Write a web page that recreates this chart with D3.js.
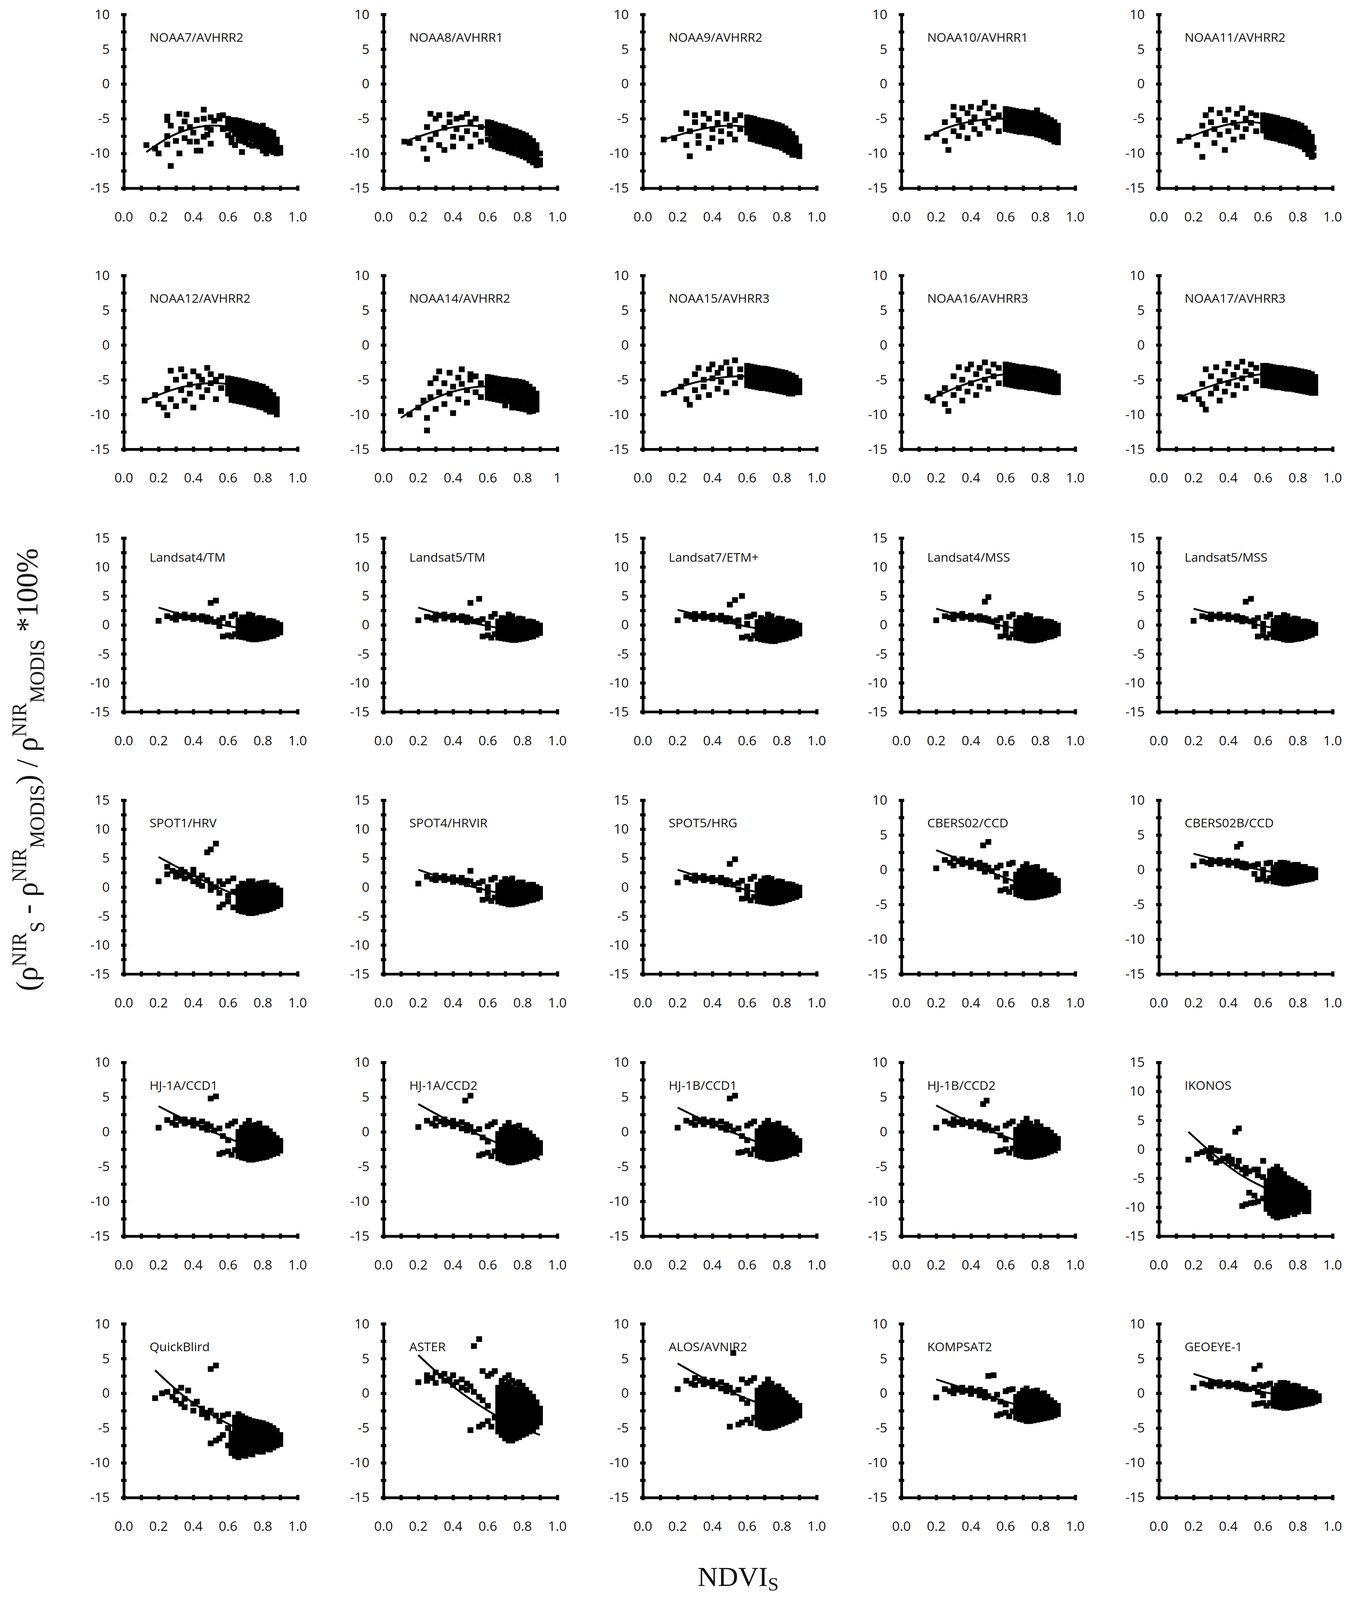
<!DOCTYPE html>
<html>
<head>
<meta charset="utf-8">
<script src="https://cdn.jsdelivr.net/npm/d3@7"></script>
<style>
  html, body { margin: 0; padding: 0; background: #fff; overflow: hidden; }
  svg { display: block; }
  text { font-family: "Liberation Sans Narrow", "Open Sans", sans-serif; fill: #111; }
</style>
</head>
<body>
<div id="chart"></div>
<script>
// panel names, row by row
const names = [
  'NOAA7/AVHRR2','NOAA8/AVHRR1','NOAA9/AVHRR2','NOAA10/AVHRR1','NOAA11/AVHRR2',
  'NOAA12/AVHRR2','NOAA14/AVHRR2','NOAA15/AVHRR3','NOAA16/AVHRR3','NOAA17/AVHRR3',
  'Landsat4/TM','Landsat5/TM','Landsat7/ETM+','Landsat4/MSS','Landsat5/MSS',
  'SPOT1/HRV','SPOT4/HRVIR','SPOT5/HRG','CBERS02/CCD','CBERS02B/CCD',
  'HJ-1A/CCD1','HJ-1A/CCD2','HJ-1B/CCD1','HJ-1B/CCD2','IKONOS',
  'QuickBlird','ASTER','ALOS/AVNIR2','KOMPSAT2','GEOEYE-1'
];
// y-axis maximum per panel (min is always -15)
const yMax = [
  10,10,10,10,10, 10,10,10,10,10, 15,15,15,15,15,
  15,15,15,10,10, 10,10,10,10,15, 10,10,10,10,10
];
const xTickLabels = ['0.0','0.2','0.4','0.6','0.8','1.0'];

// fitted curves, [NDVI, difference %]
const curves = [
  [[0.13,-9.8],[0.3,-7.2],[0.5,-6],[0.7,-6.9],[0.9,-9.6]],
  [[0.12,-8.3],[0.3,-6.8],[0.5,-6],[0.7,-7.3],[0.9,-10.8]],
  [[0.12,-8],[0.3,-6.7],[0.5,-6],[0.7,-7],[0.9,-10]],
  [[0.15,-7.7],[0.3,-6],[0.55,-5],[0.75,-5.8],[0.9,-7.5]],
  [[0.12,-8.2],[0.3,-6.5],[0.5,-5.5],[0.7,-6.5],[0.88,-9.5]],
  [[0.12,-8],[0.3,-6.3],[0.5,-5.5],[0.7,-6.3],[0.88,-9]],
  [[0.1,-10.5],[0.3,-7.6],[0.55,-6],[0.75,-6.5],[0.88,-7.8]],
  [[0.12,-7],[0.3,-5.4],[0.55,-4.5],[0.75,-5],[0.9,-6]],
  [[0.15,-8],[0.35,-5.8],[0.6,-4.2],[0.8,-4.5],[0.9,-5.3]],
  [[0.12,-7.5],[0.35,-5.5],[0.6,-4.2],[0.8,-4.6],[0.9,-5.5]],
  [[0.2,3],[0.4,1.2],[0.6,-0.2],[0.75,-0.9],[0.9,-1.5]],
  [[0.2,3],[0.4,1.2],[0.6,-0.2],[0.75,-0.9],[0.9,-1.4]],
  [[0.2,2.6],[0.4,1.1],[0.6,-0.3],[0.75,-1],[0.9,-1.5]],
  [[0.2,2.8],[0.4,1.1],[0.6,-0.3],[0.75,-1],[0.9,-1.6]],
  [[0.2,2.8],[0.4,1.2],[0.6,-0.2],[0.75,-0.9],[0.9,-1.5]],
  [[0.2,5.2],[0.4,2],[0.6,-0.8],[0.75,-2.3],[0.9,-3.5]],
  [[0.2,3],[0.4,1],[0.6,-0.6],[0.75,-1.5],[0.9,-2.3]],
  [[0.2,3],[0.4,1.1],[0.6,-0.5],[0.75,-1.3],[0.9,-2]],
  [[0.2,2.8],[0.4,0.8],[0.6,-1.2],[0.75,-2.4],[0.9,-3.5]],
  [[0.2,2.3],[0.4,1],[0.6,-0.1],[0.75,-0.7],[0.9,-1.2]],
  [[0.2,3.7],[0.4,1.2],[0.6,-0.9],[0.75,-2.3],[0.9,-3.4]],
  [[0.2,4],[0.4,1.3],[0.6,-1],[0.75,-2.6],[0.9,-4]],
  [[0.2,3.5],[0.4,1.1],[0.6,-0.9],[0.75,-2.3],[0.9,-3.5]],
  [[0.2,3.8],[0.4,1.3],[0.6,-0.7],[0.75,-2],[0.9,-3]],
  [[0.17,3],[0.3,-0.5],[0.45,-4],[0.6,-6.5],[0.75,-8.5],[0.85,-9.5]],
  [[0.18,3.3],[0.35,-0.5],[0.5,-3],[0.65,-5],[0.85,-7]],
  [[0.2,5.5],[0.4,1],[0.6,-2.5],[0.75,-4.5],[0.9,-6]],
  [[0.2,4.3],[0.4,1.5],[0.6,-0.8],[0.75,-2],[0.9,-3]],
  [[0.2,2],[0.4,0.4],[0.6,-1.2],[0.75,-2.2],[0.9,-3]],
  [[0.2,2.8],[0.4,1.3],[0.6,0.2],[0.75,-0.5],[0.9,-1]]
];

// observations, "ndvi:y1,y2,...;ndvi:..."
const points = [
  // NOAA7
  '0.13:-8.8;0.18:-9.3;0.2:-10;0.25:-4.7,-5.2,-7.5,-8.7;0.27:-11.8,-6;0.3:-8.2;0.32:-10,-4.3;0.33:-6.5;0.35:-7.8,-5.4;0.36:-4.4;0.38:-8.3,-6.2;0.4:-7;0.42:-8.3,-5.2,-9.6;0.44:-9.6;0.46:-3.7,-7.6,-5;0.48:-7.3,-6.3;0.5:-4.8,-8.6,-6.6;0.52:-5.3;0.55:-5,-4.6;0.57:-6.5,-4.5;' +
  '0.6:-5,-5.7,-6.4,-7.4;0.62:-5.2,-5.9,-6.6,-7.8,-8.4;0.64:-5.2,-5.8,-6.5,-7.2,-8.8;0.66:-5.3,-6,-6.7,-7.4,-8.1;0.68:-5.4,-6.1,-6.8,-7.5,-8.2,-9.8;0.7:-5.6,-6.3,-7,-7.7,-8.4;0.72:-5.7,-6.4,-7.1,-7.8,-8.7;0.74:-5.9,-6.6,-7.3,-8,-8.9;0.76:-6,-6.7,-7.4,-8.1,-8.8;0.78:-6.2,-6.9,-7.6,-8.3,-9;0.8:-6,-6.8,-7.5,-8.2,-9,-9.6;0.82:-6.6,-7.3,-8,-8.7,-9.4,-10;0.84:-6.8,-7.5,-8.2,-8.9,-9.6;0.86:-7,-7.7,-8.4,-9.1,-9.8;0.88:-8,-8.7,-9.4,-10;0.9:-9.2,-9.9',
  // NOAA8
  '0.12:-8.3;0.15:-8.5;0.2:-7.8;0.23:-9.3;0.25:-10.8,-6.2;0.27:-4.3,-8;0.3:-5,-7.2;0.32:-4.5,-8.8;0.35:-6.3,-9.5;0.38:-5.5,-4.4;0.4:-7.6,-9;0.42:-6.5,-5;0.45:-7.8,-4.8;0.48:-4.3,-6.8;0.5:-9,-5.5;0.53:-7.3,-5;0.56:-6.2,-8.3;' +
  '0.6:-5.5,-6.3,-7.1,-8;0.62:-5.6,-6.4,-7.2,-8.1,-8.8;0.64:-5.8,-6.6,-7.4,-8.2,-9;0.66:-6,-6.8,-7.6,-8.4,-9.2;0.68:-6.1,-6.9,-7.7,-8.5,-9.3;0.7:-6.2,-7,-7.8,-8.6,-9.4;0.72:-6.5,-7.3,-8.1,-8.9,-9.7;0.74:-6.7,-7.5,-8.3,-9.1,-9.9;0.76:-6.8,-7.6,-8.4,-9.2,-10;0.78:-7,-7.8,-8.6,-9.4,-10.2;0.8:-7.2,-8,-8.8,-9.6,-10.4;0.82:-7.4,-8.2,-9,-9.8,-10.6;0.84:-7.8,-8.6,-9.4,-10.2,-11;0.86:-8.2,-9,-9.8,-10.6,-11.3;0.88:-8.8,-9.6,-10.4,-11.2,-11.7;0.9:-10,-11,-11.6',
  // NOAA9
  '0.12:-8;0.18:-7.8;0.22:-6.5;0.25:-4.2,-8.8;0.27:-10.4,-6.8;0.3:-5.5,-4.5;0.32:-7.5,-8.5;0.35:-4.3,-6;0.38:-9.2,-5;0.4:-6.5,-7.8;0.43:-4.2,-5.6;0.45:-8.3,-6.8;0.48:-5,-4.4;0.5:-7.2,-6;0.53:-5.2,-8;0.56:-4.5,-6.5;' +
  '0.6:-4.8,-5.5,-6.2,-7;0.62:-4.9,-5.6,-6.3,-7.1,-7.9;0.64:-5,-5.7,-6.4,-7.2,-8;0.66:-5.2,-5.9,-6.6,-7.4,-8.2;0.68:-5.3,-6,-6.7,-7.5,-8.3;0.7:-5.4,-6.1,-6.9,-7.7,-8.5;0.72:-5.5,-6.2,-7,-7.8,-8.6;0.74:-5.6,-6.3,-7.1,-7.9,-8.7;0.76:-5.8,-6.5,-7.3,-8.1,-8.9;0.78:-5.9,-6.6,-7.4,-8.2,-9;0.8:-6.1,-6.8,-7.6,-8.4,-9.2;0.82:-6.4,-7.1,-7.9,-8.7,-9.5;0.84:-6.8,-7.5,-8.3,-9.1,-9.8;0.86:-7.2,-8,-8.8,-9.6,-10.2;0.88:-7.8,-8.6,-9.4,-10.2;0.9:-9,-9.8,-10.4',
  // NOAA10
  '0.15:-7.7;0.2:-7.2;0.25:-8.2,-5.5;0.27:-9.5;0.3:-4.5,-6.8,-3.3;0.33:-5.2,-7.5;0.35:-3.5,-6.2;0.38:-4.2,-7.8;0.4:-5.5,-3.3;0.42:-6.5,-4.8;0.45:-3.5,-7.2;0.48:-2.7,-5.6;0.5:-4.2,-6.3;0.53:-3.3,-5;0.56:-4.5,-6.8;' +
  '0.6:-3.6,-4.3,-5,-5.7,-6.5;0.62:-3.7,-4.4,-5.1,-5.8,-6.6;0.64:-3.8,-4.5,-5.2,-5.9,-6.7;0.66:-3.9,-4.6,-5.3,-6,-6.8;0.68:-4,-4.7,-5.4,-6.1,-6.9;0.7:-4,-4.7,-5.4,-6.1,-6.9;0.72:-4.1,-4.8,-5.5,-6.2,-7;0.74:-4.2,-4.9,-5.6,-6.3,-7.1;0.76:-4.2,-4.9,-5.6,-6.3,-7.1;0.78:-3.8,-4.5,-5.2,-5.9,-6.6,-7.3;0.8:-4.5,-5.2,-5.9,-6.6,-7.4;0.82:-4.7,-5.4,-6.1,-6.8,-7.6;0.84:-4.9,-5.6,-6.3,-7,-7.8;0.86:-5.2,-5.9,-6.6,-7.3,-8;0.88:-5.5,-6.2,-6.9,-7.6,-8.3;0.9:-6,-6.8,-7.6,-8.4',
  // NOAA11
  '0.12:-8.2;0.17:-7.6;0.22:-8.8;0.25:-10.5,-6;0.27:-4.5,-7.2;0.3:-3.7,-5.5;0.32:-8.5,-6.5;0.35:-4.2,-7.3;0.38:-5.2,-9.5;0.4:-3.7,-6.8;0.43:-5.6,-8;0.45:-4.3,-6.2;0.48:-3.5,-7.6;0.5:-5,-6.5;0.53:-4.2,-5.6;0.56:-6.8,-4.5;' +
  '0.6:-4.5,-5.2,-5.9,-6.7;0.62:-4.6,-5.3,-6,-6.8,-7.6;0.64:-4.7,-5.4,-6.1,-6.9,-7.7;0.66:-4.8,-5.5,-6.2,-7,-7.8;0.68:-4.9,-5.6,-6.3,-7.1,-7.9;0.7:-5.1,-5.8,-6.5,-7.3,-8.1;0.72:-5.2,-5.9,-6.6,-7.4,-8.2;0.74:-5.3,-6,-6.7,-7.5,-8.3;0.76:-5.5,-6.2,-6.9,-7.7,-8.5;0.78:-5.6,-6.3,-7,-7.8,-8.6;0.8:-5.8,-6.5,-7.2,-8,-8.8;0.82:-6,-6.7,-7.4,-8.2,-9;0.84:-6.4,-7.1,-7.8,-8.6,-9.4;0.86:-7,-7.8,-8.6,-9.4,-10.1;0.88:-7.6,-8.4,-9.2,-10,-10.5;0.89:-9.2,-10.3',
  // NOAA12
  '0.12:-8;0.18:-7.2;0.2:-8.5;0.23:-9;0.25:-6.3,-10.1;0.27:-3.7,-7.8;0.3:-5,-8.8;0.33:-3.5,-6.5;0.35:-4.5,-8;0.38:-7,-5.7;0.4:-3.8,-9;0.43:-6,-4.5;0.45:-7.5,-5;0.48:-3.3,-6.5;0.5:-4.2,-5.5;0.53:-7.8,-5;0.56:-4.5,-6.2;' +
  '0.6:-4.8,-5.5,-6.2,-7;0.62:-4.9,-5.6,-6.3,-7.1,-7.9;0.64:-5,-5.7,-6.4,-7.2,-8;0.66:-5.1,-5.8,-6.5,-7.3,-8.1;0.68:-5.2,-5.9,-6.6,-7.4,-8.2;0.7:-5.3,-6,-6.7,-7.5,-8.3;0.72:-5.5,-6.2,-6.9,-7.7,-8.5;0.74:-5.6,-6.3,-7,-7.8,-8.6;0.76:-5.7,-6.4,-7.1,-7.9,-8.7;0.78:-5.9,-6.6,-7.3,-8.1,-8.9;0.8:-6,-6.7,-7.4,-8.2,-9;0.82:-6.3,-7,-7.7,-8.5,-9.3;0.84:-6.7,-7.4,-8.1,-8.9,-9.6;0.86:-7.2,-8,-8.8,-9.6;0.88:-7.8,-8.6,-9.4,-10',
  // NOAA14
  '0.1:-9.5;0.15:-10;0.2:-9;0.23:-8;0.25:-12.3,-10.5;0.27:-7.5,-5.5;0.3:-4.8,-9.2;0.32:-3.8,-6.8;0.35:-8.5,-5.5;0.38:-4,-7;0.4:-9.8,-6;0.43:-4.7,-7.8;0.45:-3.5,-5.6;0.48:-6.5,-8.3;0.5:-4.2,-5;0.53:-6.8,-4.5;0.56:-5.5,-7.5;' +
  '0.6:-4.6,-5.3,-6,-6.8,-7.6;0.62:-4.7,-5.4,-6.1,-6.9,-7.7;0.64:-4.8,-5.5,-6.2,-7,-7.8;0.66:-4.9,-5.6,-6.3,-7.1,-7.9;0.68:-5,-5.7,-6.4,-7.2,-8;0.7:-5,-5.7,-6.4,-7.2,-8,-8.7;0.72:-5.1,-5.8,-6.5,-7.3,-8.1;0.74:-5.2,-5.9,-6.6,-7.4,-8.2,-9;0.76:-5.2,-5.9,-6.6,-7.4,-8.2,-9;0.78:-5.3,-6,-6.7,-7.5,-8.3,-9.1;0.8:-5.4,-6.1,-6.8,-7.6,-8.4,-9.2;0.82:-5.6,-6.3,-7,-7.8,-8.6,-9.3;0.84:-6,-6.7,-7.4,-8.2,-9,-9.6;0.86:-6.4,-7.2,-8,-8.8,-9.5;0.88:-7,-7.8,-8.6,-9.3',
  // NOAA15
  '0.12:-7;0.18:-6.8;0.22:-6;0.25:-7.8,-5.2;0.27:-8.6;0.3:-4.2,-6.5;0.32:-3.3,-7.5;0.35:-5,-6;0.38:-3.5,-7.2;0.4:-4.8,-2.8;0.43:-6.3,-4;0.45:-3.3,-5.3;0.48:-2.5,-6.8;0.5:-4.2,-3.5;0.53:-2.2,-5.5;0.56:-3.5,-4.6;' +
  '0.6:-3,-3.7,-4.4,-5.1,-5.8;0.62:-3.1,-3.8,-4.5,-5.2,-5.9;0.64:-3.2,-3.9,-4.6,-5.3,-6;0.66:-3.3,-4,-4.7,-5.4,-6.1;0.68:-3.4,-4.1,-4.8,-5.5,-6.2;0.7:-3.4,-4.1,-4.8,-5.5,-6.2;0.72:-3.5,-4.2,-4.9,-5.6,-6.3;0.74:-3.6,-4.3,-5,-5.7,-6.4;0.76:-3.7,-4.4,-5.1,-5.8,-6.5;0.78:-3.8,-4.5,-5.2,-5.9,-6.6;0.8:-3.9,-4.6,-5.3,-6,-6.7;0.82:-4,-4.7,-5.4,-6.1,-6.8;0.84:-4.2,-4.9,-5.6,-6.3,-7;0.86:-4.4,-5.1,-5.8,-6.5,-7;0.88:-4.7,-5.4,-6.1,-6.8;0.9:-5.2,-6,-6.8',
  // NOAA16
  '0.15:-7.5;0.18:-8;0.22:-7;0.25:-6.2,-8.5;0.27:-9.5;0.3:-4.5,-7.2;0.33:-3.2,-6.2;0.35:-5,-8;0.38:-3.5,-6.7;0.4:-2.8,-5.5;0.43:-7.2,-4.2;0.45:-3.3,-6;0.48:-2.5,-5;0.5:-3.8,-6.3;0.53:-2.8,-4.5;0.56:-3.3,-5.5;' +
  '0.6:-2.8,-3.5,-4.2,-4.9,-5.6;0.62:-2.9,-3.6,-4.3,-5,-5.7;0.64:-3,-3.7,-4.4,-5.1,-5.8;0.66:-3.1,-3.8,-4.5,-5.2,-5.9;0.68:-3.2,-3.9,-4.6,-5.3,-6;0.7:-3.2,-3.9,-4.6,-5.3,-6;0.72:-3.3,-4,-4.7,-5.4,-6.1;0.74:-3.4,-4.1,-4.8,-5.5,-6.2;0.76:-3.4,-4.1,-4.8,-5.5,-6.2;0.78:-3.5,-4.2,-4.9,-5.6,-6.3;0.8:-3.6,-4.3,-5,-5.7,-6.4;0.82:-3.7,-4.4,-5.1,-5.8,-6.5;0.84:-3.8,-4.5,-5.2,-5.9,-6.6;0.86:-3.9,-4.6,-5.3,-6,-6.7;0.88:-4.1,-4.8,-5.5,-6.2,-6.8;0.9:-4.5,-5.3,-6.1,-6.8',
  // NOAA17
  '0.12:-7.5;0.15:-7.8;0.2:-7;0.23:-7.8;0.25:-5.6,-8.5;0.27:-9.3,-3.5;0.3:-4.5,-7;0.33:-3.2,-6.2;0.35:-5.2,-8;0.38:-3.8,-6.7;0.4:-2.7,-5.5;0.43:-4.3,-7.2;0.45:-3.2,-5.8;0.48:-2.4,-4.8;0.5:-3.8,-6.2;0.53:-2.8,-4.3;0.56:-3.3,-5.2;' +
  '0.6:-3,-3.7,-4.4,-5.1,-5.8;0.62:-3,-3.7,-4.4,-5.1,-5.8;0.64:-3.1,-3.8,-4.5,-5.2,-5.9;0.66:-3.2,-3.9,-4.6,-5.3,-6;0.68:-3.3,-4,-4.7,-5.4,-6.1;0.7:-3.3,-4,-4.7,-5.4,-6.1;0.72:-3.4,-4.1,-4.8,-5.5,-6.2;0.74:-3.5,-4.2,-4.9,-5.6,-6.3;0.76:-3.5,-4.2,-4.9,-5.6,-6.3;0.78:-3.6,-4.3,-5,-5.7,-6.4;0.8:-3.7,-4.4,-5.1,-5.8,-6.5;0.82:-3.8,-4.5,-5.2,-5.9,-6.6;0.84:-3.9,-4.6,-5.3,-6,-6.7;0.86:-4,-4.7,-5.4,-6.1,-6.8;0.88:-4.2,-4.9,-5.6,-6.3,-6.9;0.9:-4.6,-5.4,-6.2,-6.9',
  // Landsat4/TM
  '0.2:0.7;0.25:1.5;0.28:1.2;0.3:1.8,0.9;0.33:1.5;0.35:1.2,1.8;0.38:1.3;0.4:1.6,1;0.42:1.2;0.45:1.5,0.9;0.48:1.3,0.6;0.5:1,3.8;0.52:0.5;0.53:4.2;0.55:0.8,-0.2;0.57:-2,1.2;0.6:-1.8,0.2;0.62:-2,1.5;0.64:-1.6,1.8;' +
  '0.66:-2,-1.3,-0.6,0.1,0.8;0.68:-2.1,-1.4,-0.7,0,0.7,1.3;0.7:-2.2,-1.5,-0.8,-0.1,0.6,1.3;0.72:-2.4,-1.7,-1,-0.3,0.4,1.1,1.8;0.74:-2.5,-1.8,-1.1,-0.4,0.3,1,1.6;0.76:-2.5,-1.8,-1.1,-0.4,0.3,1;0.78:-2.4,-1.7,-1,-0.3,0.4,1.2;0.8:-2.3,-1.6,-0.9,-0.2,0.5,1.1;0.82:-2.2,-1.5,-0.8,-0.1,0.6;0.84:-2,-1.3,-0.6,0.1,0.7;0.86:-1.9,-1.2,-0.5,0.2,0.6;0.88:-1.6,-0.9,-0.2,0.3;0.9:-1.3,-0.6,0',
  // Landsat5/TM
  '0.2:0.8;0.25:1.4;0.28:1.2;0.3:1.8,0.9;0.33:1.6;0.35:1.1,1.8;0.38:1.4;0.4:1.6,0.9;0.42:1.2;0.45:1.5,0.8;0.48:1.3,0.5;0.5:1,3.8;0.52:0.6;0.55:4.5,0.7;0.57:-2,1;0.6:-1.8,0.2,-0.5;0.62:-2.2,1.4;0.64:-1.6,1.9;' +
  '0.66:-2.2,-1.5,-0.8,-0.1,0.6;0.68:-2.3,-1.6,-0.9,-0.2,0.5,1.2;0.7:-2.4,-1.7,-1,-0.3,0.4,1.1;0.72:-2.5,-1.8,-1.1,-0.4,0.3,1,1.8;0.74:-2.6,-1.9,-1.2,-0.5,0.2,0.9,1.5;0.76:-2.6,-1.9,-1.2,-0.5,0.2,0.9;0.78:-2.5,-1.8,-1.1,-0.4,0.3,1.1;0.8:-2.4,-1.7,-1,-0.3,0.4,1;0.82:-2.3,-1.6,-0.9,-0.2,0.5;0.84:-2.1,-1.4,-0.7,0,0.6;0.86:-2,-1.3,-0.6,0.1,0.5;0.88:-1.7,-1,-0.3,0.2;0.9:-1.4,-0.7,-0.1',
  // Landsat7/ETM+
  '0.2:0.8;0.25:1.6;0.28:1.4;0.3:1.9,1;0.33:1.5;0.35:1.2,1.9;0.38:1.4;0.4:1.6,1;0.42:1.2;0.45:1.6,0.9;0.48:1.2,0.6;0.5:1.1,3.5;0.52:0.6;0.53:4.3;0.55:0.8,-0.2;0.57:5,-2.2;0.6:-2,0.2,1.4;0.62:-2.4,1.5;0.64:-1.8,1.8;' +
  '0.66:-2.3,-1.6,-0.9,-0.2,0.5;0.68:-2.5,-1.8,-1.1,-0.4,0.3,1.2;0.7:-2.6,-1.9,-1.2,-0.5,0.2,0.9;0.72:-2.7,-2,-1.3,-0.6,0.1,0.8,1.8;0.74:-2.8,-2.1,-1.4,-0.7,0,0.7,1.5;0.76:-2.8,-2.1,-1.4,-0.7,0,0.8;0.78:-2.6,-1.9,-1.2,-0.5,0.2,1.1;0.8:-2.5,-1.8,-1.1,-0.4,0.3,1;0.82:-2.4,-1.7,-1,-0.3,0.4;0.84:-2.2,-1.5,-0.8,-0.1,0.6;0.86:-2,-1.3,-0.6,0.1,0.5;0.88:-1.8,-1.1,-0.4,0.2;0.9:-1.5,-0.8,-0.1',
  // Landsat4/MSS
  '0.2:0.8;0.25:1.5;0.28:1.3;0.3:1.8,1;0.33:1.6;0.35:1.2,1.9;0.38:1.4;0.4:1.6,1;0.42:1.3;0.45:1.5,0.9;0.48:1.2,4;0.5:1,4.8;0.52:0.6;0.55:0.8,-0.3;0.57:-2,1.2;0.6:-1.8,0.2,-0.8;0.62:-2.2,1.4;0.64:-1.6,1.8;' +
  '0.66:-2.2,-1.5,-0.8,-0.1,0.6;0.68:-2.3,-1.6,-0.9,-0.2,0.5,1.2;0.7:-2.4,-1.7,-1,-0.3,0.4,1.1;0.72:-2.6,-1.9,-1.2,-0.5,0.2,0.9,1.7;0.74:-2.7,-2,-1.3,-0.6,0.1,0.8,1.5;0.76:-2.7,-2,-1.3,-0.6,0.1,0.8;0.78:-2.6,-1.9,-1.2,-0.5,0.2,1;0.8:-2.5,-1.8,-1.1,-0.4,0.3,1;0.82:-2.3,-1.6,-0.9,-0.2,0.5;0.84:-2.1,-1.4,-0.7,0,0.6;0.86:-2,-1.3,-0.6,0.1,0.5;0.88:-1.8,-1.1,-0.4,0.2;0.9:-1.5,-0.8,-0.1',
  // Landsat5/MSS
  '0.2:0.7;0.25:1.5;0.28:1.3;0.3:1.8,1;0.33:1.5;0.35:1.2,1.8;0.38:1.4;0.4:1.7,1;0.42:1.3;0.45:1.5,0.9;0.48:1.2,0.6;0.5:1,4;0.53:4.5,0.6;0.55:0.8,-0.2;0.57:-2,1.2;0.6:-1.8,0.2,-0.8;0.62:-2.2,1.4;0.64:-1.6,1.8;' +
  '0.66:-2.1,-1.4,-0.7,0,0.7;0.68:-2.2,-1.5,-0.8,-0.1,0.6,1.2;0.7:-2.3,-1.6,-0.9,-0.2,0.5,1.2;0.72:-2.5,-1.8,-1.1,-0.4,0.3,1,1.7;0.74:-2.6,-1.9,-1.2,-0.5,0.2,0.9,1.5;0.76:-2.6,-1.9,-1.2,-0.5,0.2,0.9;0.78:-2.5,-1.8,-1.1,-0.4,0.3,1.1;0.8:-2.4,-1.7,-1,-0.3,0.4,1;0.82:-2.3,-1.6,-0.9,-0.2,0.5;0.84:-2.1,-1.4,-0.7,0,0.6;0.86:-1.9,-1.2,-0.5,0.2,0.5;0.88:-1.7,-1,-0.3,0.2;0.9:-1.4,-0.7,0',
  // SPOT1/HRV
  '0.2:1;0.25:3.5,2.2;0.28:2.8;0.3:2.5,1.8;0.33:3,2;0.35:1.5,2.6;0.38:1.8;0.4:2.2,1,3;0.43:1.5,0.5;0.45:2,0.2;0.48:1.2,6;0.5:0.5,-0.5,6.5;0.53:7.5,0;0.55:-1,1,-3.5;0.57:-3,0.5;0.6:-2.5,-1.5,1;0.63:-3.5,-0.8,1.5;' +
  '0.66:-4,-3.2,-2.4,-1.6,-0.8,0;0.68:-4.2,-3.4,-2.6,-1.8,-1,-0.2,0.6;0.7:-4.3,-3.5,-2.7,-1.9,-1.1,-0.3,0.5;0.72:-4.5,-3.7,-2.9,-2.1,-1.3,-0.5,0.3,1;0.74:-4.5,-3.7,-2.9,-2.1,-1.3,-0.5,0.3,1;0.76:-4.4,-3.6,-2.8,-2,-1.2,-0.4,0.4;0.78:-4.2,-3.4,-2.6,-1.8,-1,-0.2,0.6;0.8:-4.1,-3.3,-2.5,-1.7,-0.9,-0.1,0.7;0.82:-4,-3.2,-2.4,-1.6,-0.8,0,0.8;0.84:-3.8,-3,-2.2,-1.4,-0.6,0.2;0.86:-3.6,-2.8,-2,-1.2,-0.4,0.3;0.88:-3.3,-2.5,-1.7,-0.9,-0.2;0.9:-3,-2.2,-1.4,-0.6',
  // SPOT4/HRVIR
  '0.2:0.6;0.25:1.8;0.28:1.4;0.3:2,1.2;0.33:1.6;0.35:1.2,1.9;0.38:1.4;0.4:1.7,0.9;0.42:1.2;0.45:1.6,0.8;0.48:1.1,0.5;0.5:1,2.8;0.52:0.4;0.55:0.7,-0.5;0.57:-2.2,1;0.6:-2,0,-1;0.62:-2.4,1.3;0.64:-1.8,1.6;' +
  '0.66:-2.5,-1.8,-1.1,-0.4,0.3;0.68:-2.7,-2,-1.3,-0.6,0.1,0.8;0.7:-2.8,-2.1,-1.4,-0.7,0,0.7,1.4;0.72:-3,-2.3,-1.6,-0.9,-0.2,0.5,1.2;0.74:-3,-2.3,-1.6,-0.9,-0.2,0.5,1.5;0.76:-2.9,-2.2,-1.5,-0.8,-0.1,0.6;0.78:-2.8,-2.1,-1.4,-0.7,0,0.8;0.8:-2.7,-2,-1.3,-0.6,0.1,0.8;0.82:-2.5,-1.8,-1.1,-0.4,0.3;0.84:-2.3,-1.6,-0.9,-0.2,0.4;0.86:-2.2,-1.5,-0.8,-0.1,0.4;0.88:-2,-1.3,-0.6,0;0.9:-1.7,-1,-0.3',
  // SPOT5/HRG
  '0.2:0.8;0.25:1.7;0.28:1.4;0.3:2,1.1;0.33:1.6;0.35:1.2,1.9;0.38:1.4;0.4:1.6,1;0.42:1.2;0.45:1.6,0.8;0.48:1.2,0.5;0.5:1,4;0.52:0.4;0.53:4.8;0.55:0.7,-0.4;0.57:-2,1.1;0.6:-1.9,0.1,-1;0.62:-2.3,1.4;0.64:-1.7,1.8;' +
  '0.66:-2.4,-1.7,-1,-0.3,0.4;0.68:-2.5,-1.8,-1.1,-0.4,0.3,1;0.7:-2.6,-1.9,-1.2,-0.5,0.2,0.9,1.5;0.72:-2.7,-2,-1.3,-0.6,0.1,0.8,1.6;0.74:-2.8,-2.1,-1.4,-0.7,0,0.7,1.4;0.76:-2.7,-2,-1.3,-0.6,0.1,0.8;0.78:-2.6,-1.9,-1.2,-0.5,0.2,1;0.8:-2.5,-1.8,-1.1,-0.4,0.3,0.9;0.82:-2.3,-1.6,-0.9,-0.2,0.5;0.84:-2.1,-1.4,-0.7,0,0.5;0.86:-1.9,-1.2,-0.5,0.1,0.4;0.88:-1.7,-1,-0.3,0.1;0.9:-1.4,-0.7,-0.1',
  // CBERS02/CCD
  '0.2:0.2;0.25:1.4;0.28:1;0.3:1.6,0.6;0.33:1.2;0.35:0.8,1.5;0.38:1;0.4:1.3,0.4;0.42:0.8;0.45:1,0.2;0.47:3.5;0.48:0.6,-0.3;0.5:0.3,4;0.52:-0.2;0.55:0.3,-1;0.57:-3,0.6;0.6:-2.8,-0.6,-1.6;0.62:-3.2,0.8;0.64:-2.5,1;' +
  '0.66:-3.5,-2.8,-2.1,-1.4,-0.7;0.68:-3.7,-3,-2.3,-1.6,-0.9,-0.2;0.7:-3.8,-3.1,-2.4,-1.7,-1,-0.3,0.4;0.72:-4,-3.3,-2.6,-1.9,-1.2,-0.5,0.2,0.8;0.74:-4,-3.3,-2.6,-1.9,-1.2,-0.5,0.2;0.76:-4,-3.3,-2.6,-1.9,-1.2,-0.5,0.3;0.78:-3.9,-3.2,-2.5,-1.8,-1.1,-0.4,0.4;0.8:-3.8,-3.1,-2.4,-1.7,-1,-0.3;0.82:-3.7,-3,-2.3,-1.6,-0.9,-0.2;0.84:-3.6,-2.9,-2.2,-1.5,-0.8;0.86:-3.5,-2.8,-2.1,-1.4,-0.8;0.88:-3.3,-2.6,-1.9,-1.3;0.9:-3,-2.3,-1.6',
  // CBERS02B/CCD
  '0.2:0.6;0.25:1.2;0.28:1;0.3:1.4,0.8;0.33:1.2;0.35:0.9,1.4;0.38:1.1;0.4:1.3,0.7;0.42:1;0.45:1.2,0.6,3.3;0.47:3.7;0.48:0.9,0.4;0.5:0.8,0.3;0.52:0.5;0.55:0.6,-0.6;0.57:-1.4,0.8;0.6:-1.3,0,-0.7;0.62:-1.6,0.9;0.64:-1.2,1;' +
  '0.66:-1.7,-1.2,-0.7,-0.2,0.3;0.68:-1.8,-1.3,-0.8,-0.3,0.2,0.7;0.7:-1.9,-1.4,-0.9,-0.4,0.1,0.6,1;0.72:-2,-1.5,-1,-0.5,0,0.5,1;0.74:-2,-1.5,-1,-0.5,0,0.5,0.9;0.76:-1.9,-1.4,-0.9,-0.4,0.1,0.6;0.78:-1.8,-1.3,-0.8,-0.3,0.2,0.7;0.8:-1.7,-1.2,-0.7,-0.2,0.3,0.7;0.82:-1.6,-1.1,-0.6,-0.1,0.4;0.84:-1.5,-1,-0.5,0,0.4;0.86:-1.4,-0.9,-0.4,0.1;0.88:-1.3,-0.8,-0.3,0.1;0.9:-1.1,-0.6,-0.1',
  // HJ-1A/CCD1
  '0.2:0.6;0.25:1.7;0.28:1.3;0.3:2,1;0.33:1.6;0.35:1.2,1.8;0.38:1.4;0.4:1.7,0.9;0.42:1.2;0.45:1.5,0.6;0.48:1.1,0.3;0.5:0.8,4.8;0.52:0.2;0.53:5.1;0.55:-3.2,0.5;0.57:-3,-0.6;0.6:-2.8,-1.2,0.9;0.62:-3.3,1.2;0.64:-2.6,1.5;' +
  '0.66:-3.5,-2.8,-2.1,-1.4,-0.7,0;0.68:-3.7,-3,-2.3,-1.6,-0.9,-0.2,0.6;0.7:-3.8,-3.1,-2.4,-1.7,-1,-0.3,0.4,1.1;0.72:-4,-3.3,-2.6,-1.9,-1.2,-0.5,0.2,0.9,1.6;0.74:-4,-3.3,-2.6,-1.9,-1.2,-0.5,0.2,0.9;0.76:-3.9,-3.2,-2.5,-1.8,-1.1,-0.4,0.3,1;0.78:-3.8,-3.1,-2.4,-1.7,-1,-0.3,0.4,1.2;0.8:-3.7,-3,-2.3,-1.6,-0.9,-0.2,0.5;0.82:-3.6,-2.9,-2.2,-1.5,-0.8,-0.1,0.5;0.84:-3.4,-2.7,-2,-1.3,-0.6,0.1;0.86:-3.2,-2.5,-1.8,-1.1,-0.4;0.88:-3,-2.3,-1.6,-0.9;0.9:-2.7,-2,-1.3',
  // HJ-1A/CCD2
  '0.2:0.7;0.25:1.6;0.28:1.2;0.3:1.9,0.9;0.33:1.5;0.35:1.1,1.8;0.38:1.3;0.4:1.6,0.8;0.42:1.1;0.45:1.4,0.5;0.47:4.5;0.48:1,0.2;0.5:0.7,5.2;0.52:0;0.55:-3.4,0.4;0.57:-3.2,-0.8;0.6:-3,-1.4,0.8;0.62:-3.5,1.1;0.64:-2.8,1.4;' +
  '0.66:-3.8,-3.1,-2.4,-1.7,-1,-0.3;0.68:-4,-3.3,-2.6,-1.9,-1.2,-0.5,0.3;0.7:-4.2,-3.5,-2.8,-2.1,-1.4,-0.7,0,0.8;0.72:-4.4,-3.7,-3,-2.3,-1.6,-0.9,-0.2,0.5,1.3;0.74:-4.4,-3.7,-3,-2.3,-1.6,-0.9,-0.2,0.6;0.76:-4.3,-3.6,-2.9,-2.2,-1.5,-0.8,-0.1,0.7;0.78:-4.2,-3.5,-2.8,-2.1,-1.4,-0.7,0,0.9;0.8:-4,-3.3,-2.6,-1.9,-1.2,-0.5,0.2;0.82:-3.9,-3.2,-2.5,-1.8,-1.1,-0.4,0.2;0.84:-3.7,-3,-2.3,-1.6,-0.9,-0.2;0.86:-3.5,-2.8,-2.1,-1.4,-0.7;0.88:-3.3,-2.6,-1.9,-1.2;0.9:-3,-2.3,-1.6',
  // HJ-1B/CCD1
  '0.2:0.6;0.25:1.6;0.28:1.3;0.3:1.9,1;0.33:1.5;0.35:1.1,1.8;0.38:1.4;0.4:1.6,0.9;0.42:1.2;0.45:1.5,0.6;0.48:1.1,0.3;0.5:0.8,4.8;0.52:0.2;0.53:5.2;0.55:-3,0.5;0.57:-2.9,-0.6;0.6:-2.7,-1.2,0.9;0.62:-3.2,1.2;0.64:-2.5,1.5;' +
  '0.66:-3.4,-2.7,-2,-1.3,-0.6,0.1;0.68:-3.6,-2.9,-2.2,-1.5,-0.8,-0.1,0.6;0.7:-3.7,-3,-2.3,-1.6,-0.9,-0.2,0.5,1.2;0.72:-3.9,-3.2,-2.5,-1.8,-1.1,-0.4,0.3,1,1.6;0.74:-3.9,-3.2,-2.5,-1.8,-1.1,-0.4,0.3,1;0.76:-3.8,-3.1,-2.4,-1.7,-1,-0.3,0.4,1;0.78:-3.7,-3,-2.3,-1.6,-0.9,-0.2,0.5,1.2;0.8:-3.6,-2.9,-2.2,-1.5,-0.8,-0.1,0.5;0.82:-3.5,-2.8,-2.1,-1.4,-0.7,0,0.5;0.84:-3.3,-2.6,-1.9,-1.2,-0.5,0.1;0.86:-3.1,-2.4,-1.7,-1,-0.4;0.88:-2.9,-2.2,-1.5,-0.9;0.9:-2.6,-1.9,-1.3',
  // HJ-1B/CCD2
  '0.2:0.6;0.25:1.5;0.28:1.2;0.3:1.8,1;0.33:1.4;0.35:1.1,1.7;0.38:1.3;0.4:1.5,0.8;0.42:1.1;0.45:1.4,0.6;0.47:4;0.48:1,0.3;0.49:4.5;0.5:0.8;0.52:0.2;0.55:-2.8,0.5;0.57:-2.7,-0.5;0.6:-2.5,-1.1,0.9;0.62:-3,1.2;0.64:-2.4,1.5;' +
  '0.66:-3.2,-2.5,-1.8,-1.1,-0.4,0.3;0.68:-3.4,-2.7,-2,-1.3,-0.6,0.1,0.8;0.7:-3.5,-2.8,-2.1,-1.4,-0.7,0,0.7,1.3;0.72:-3.6,-2.9,-2.2,-1.5,-0.8,-0.1,0.6,1.3,1.9;0.74:-3.6,-2.9,-2.2,-1.5,-0.8,-0.1,0.6,1.2;0.76:-3.5,-2.8,-2.1,-1.4,-0.7,0,0.7;0.78:-3.4,-2.7,-2,-1.3,-0.6,0.1,0.8,1.4;0.8:-3.3,-2.6,-1.9,-1.2,-0.5,0.2,0.8;0.82:-3.2,-2.5,-1.8,-1.1,-0.4,0.3;0.84:-3,-2.3,-1.6,-0.9,-0.2,0.3;0.86:-2.8,-2.1,-1.4,-0.7,-0.1;0.88:-2.6,-1.9,-1.2,-0.6;0.9:-2.3,-1.6,-1',
  // IKONOS
  '0.17:-1.8;0.22:-0.8;0.25:-0.5;0.27:-0.3;0.29:-1.2,-0.8;0.3:0.2,-1.6;0.32:-0.2;0.33:-2.3;0.35:-2,-0.3;0.37:-1.6;0.4:-2,-1.2;0.42:-2.5,-1.8;0.44:3;0.45:-3;0.46:3.6,-2;0.48:-3.5,-9.8;0.5:-4.2,-3.2,-9.5;0.52:-3.8,-7.5;0.53:-9.3;0.55:-3.5,-9.2,-8;0.57:-3.5,-4.5,-9;0.6:-2,-4.8,-8.5;' +
  '0.62:-5.5,-6.3,-7.1,-7.9,-8.7,-9.5,-10.3;0.64:-3.8,-4.6,-5.4,-6.2,-7,-7.8,-8.6,-9.4,-10.2,-11;0.66:-3.5,-4.3,-5.1,-5.9,-6.7,-7.5,-8.3,-9.1,-9.9,-10.7,-11.5;0.68:-3,-3.8,-4.6,-5.4,-6.2,-7,-7.8,-8.6,-9.4,-10.2,-11,-11.8;0.7:-3.6,-4.4,-5.2,-6,-6.8,-7.6,-8.4,-9.2,-10,-10.8,-11.6;0.72:-4.3,-5.1,-5.9,-6.7,-7.5,-8.3,-9.1,-9.9,-10.7,-11.5;0.74:-5,-5.8,-6.6,-7.4,-8.2,-9,-9.8,-10.6,-11.4;0.76:-5.3,-6.1,-6.9,-7.7,-8.5,-9.3,-10.1,-10.9;0.78:-5.6,-6.4,-7.2,-8,-8.8,-9.6,-10.4,-11.2;0.8:-6,-6.8,-7.6,-8.4,-9.2,-10,-10.8;0.82:-6.3,-7.1,-7.9,-8.7,-9.5,-10.3;0.84:-6.8,-7.6,-8.4,-9.2,-10,-10.7;0.86:-7.5,-8.3,-9.1,-9.9,-10.7',
  // QuickBlird
  '0.18:-0.7;0.22:0;0.25:0.2;0.28:-0.5;0.3:0.3,-1;0.33:0.8,-1.5;0.35:-0.8,-2;0.37:0.4;0.4:-1.5,-2.5;0.42:-1.2;0.45:-2.2,-3;0.48:-2.8,-3.5;0.5:3.5,-2.5,-7.2;0.53:4,-3.2,-6.8;0.55:-6.5,-4;0.57:-3.2,-6;0.6:-5,-7.5,-3;' +
  '0.62:-5.8,-6.5,-7.2,-7.9,-8.6;0.64:-3.5,-4.2,-4.9,-5.6,-6.3,-7,-7.7,-8.4,-9;0.66:-3,-3.7,-4.4,-5.1,-5.8,-6.5,-7.2,-7.9,-8.6,-9.2;0.68:-3.3,-4,-4.7,-5.4,-6.1,-6.8,-7.5,-8.2,-8.9;0.7:-3.6,-4.3,-5,-5.7,-6.4,-7.1,-7.8,-8.5,-9;0.72:-3.8,-4.5,-5.2,-5.9,-6.6,-7.3,-8,-8.7;0.74:-4,-4.7,-5.4,-6.1,-6.8,-7.5,-8.2,-8.8;0.76:-4.1,-4.8,-5.5,-6.2,-6.9,-7.6,-8.3;0.78:-4.2,-4.9,-5.6,-6.3,-7,-7.7,-8.4;0.8:-4.3,-5,-5.7,-6.4,-7.1,-7.8,-8.4;0.82:-4.5,-5.2,-5.9,-6.6,-7.3,-8;0.84:-4.7,-5.4,-6.1,-6.8,-7.5,-8.1;0.86:-5,-5.7,-6.4,-7.1,-7.8;0.88:-5.4,-6.1,-6.8,-7.5;0.9:-6,-6.7,-7.3',
  // ASTER
  '0.2:1.6;0.25:2.6,1.8;0.28:2.2;0.3:3,1.5;0.33:2.5;0.35:1.8,2.8;0.38:2;0.4:2.6,1.2;0.42:1.6;0.45:2,0.8;0.48:1.4,0.5;0.5:1,-5.3;0.52:6.8,0.2;0.55:7.8,-0.5,-4.8;0.57:-4.5,-1,3.2;0.6:-4,-1.8,2.5;0.62:-4.8,2.8;0.64:-3.5,3.2;' +
  '0.66:-5.5,-4.8,-4.1,-3.4,-2.7,-2,-1.3,-0.6,0.1,0.8;0.68:-6,-5.3,-4.6,-3.9,-3.2,-2.5,-1.8,-1.1,-0.4,0.3,1,1.8;0.7:-6.5,-5.8,-5.1,-4.4,-3.7,-3,-2.3,-1.6,-0.9,-0.2,0.5,1.2,2.2;0.72:-6.8,-6.1,-5.4,-4.7,-4,-3.3,-2.6,-1.9,-1.2,-0.5,0.2,0.9,1.6,2.6;0.74:-6.8,-6.1,-5.4,-4.7,-4,-3.3,-2.6,-1.9,-1.2,-0.5,0.2,0.9,1.8;0.76:-6.5,-5.8,-5.1,-4.4,-3.7,-3,-2.3,-1.6,-0.9,-0.2,0.5,1.4;0.78:-6.3,-5.6,-4.9,-4.2,-3.5,-2.8,-2.1,-1.4,-0.7,0,0.8,1.6;0.8:-6,-5.3,-4.6,-3.9,-3.2,-2.5,-1.8,-1.1,-0.4,0.3,1.1;0.82:-5.8,-5.1,-4.4,-3.7,-3,-2.3,-1.6,-0.9,-0.2,0.5;0.84:-5.5,-4.8,-4.1,-3.4,-2.7,-2,-1.3,-0.6,0;0.86:-5.2,-4.5,-3.8,-3.1,-2.4,-1.7,-1,-0.5;0.88:-4.8,-4.1,-3.4,-2.7,-2,-1.3;0.9:-4.2,-3.5,-2.8,-2.2',
  // ALOS/AVNIR2
  '0.2:0.6;0.25:1.8;0.28:1.4;0.3:2.2,1.2;0.33:1.8;0.35:1.3,2;0.38:1.5;0.4:1.8,1;0.42:1.3;0.45:1.6,0.7;0.48:1.1,0.3;0.5:0.8,-4.8;0.52:5.8,0.1;0.55:-4.5,0.5;0.57:-4.2,-0.8,2;0.6:-3.8,-1.4,1.5;0.62:-4.3,1.8;0.64:-3.5,2.2;' +
  '0.66:-4.5,-3.8,-3.1,-2.4,-1.7,-1,-0.3,0.4;0.68:-4.8,-4.1,-3.4,-2.7,-2,-1.3,-0.6,0.1,0.8;0.7:-5,-4.3,-3.6,-2.9,-2.2,-1.5,-0.8,-0.1,0.6,1.3;0.72:-5,-4.3,-3.6,-2.9,-2.2,-1.5,-0.8,-0.1,0.6,1.3,2;0.74:-4.9,-4.2,-3.5,-2.8,-2.1,-1.4,-0.7,0,0.7,1.4;0.76:-4.8,-4.1,-3.4,-2.7,-2,-1.3,-0.6,0.1,0.8;0.78:-4.6,-3.9,-3.2,-2.5,-1.8,-1.1,-0.4,0.3,1;0.8:-4.4,-3.7,-3,-2.3,-1.6,-0.9,-0.2,0.5;0.82:-4.2,-3.5,-2.8,-2.1,-1.4,-0.7,0;0.84:-4,-3.3,-2.6,-1.9,-1.2,-0.5;0.86:-3.8,-3.1,-2.4,-1.7,-1;0.88:-3.5,-2.8,-2.1,-1.4;0.9:-3.2,-2.5,-1.8',
  // KOMPSAT2
  '0.2:-0.6;0.25:0.6;0.28:0.3;0.3:0.8,0;0.33:0.5;0.35:0.2,0.8;0.38:0.4;0.4:0.7,-0.1;0.42:0.3;0.45:0.5,-0.3;0.48:0.2,-0.6;0.5:2.5,-0.4;0.53:2.6,-0.8;0.55:-3.2,-0.2;0.57:-3,-1.2;0.6:-2.8,-1.6,0.3;0.62:-3.3,0.5;0.64:-2.6,0.6;' +
  '0.66:-3.5,-2.9,-2.3,-1.7,-1.1,-0.5;0.68:-3.7,-3.1,-2.5,-1.9,-1.3,-0.7,-0.1;0.7:-3.8,-3.2,-2.6,-2,-1.4,-0.8,-0.2,0.4;0.72:-4,-3.4,-2.8,-2.2,-1.6,-1,-0.4,0.2,0.7;0.74:-4,-3.4,-2.8,-2.2,-1.6,-1,-0.4,0.2;0.76:-3.9,-3.3,-2.7,-2.1,-1.5,-0.9,-0.3,0.3;0.78:-3.8,-3.2,-2.6,-2,-1.4,-0.8,-0.2,0.4;0.8:-3.7,-3.1,-2.5,-1.9,-1.3,-0.7,-0.1;0.82:-3.6,-3,-2.4,-1.8,-1.2,-0.6,0;0.84:-3.5,-2.9,-2.3,-1.7,-1.1,-0.5;0.86:-3.4,-2.8,-2.2,-1.6,-1;0.88:-3.2,-2.6,-2,-1.4;0.9:-3,-2.4,-1.8',
  // GEOEYE-1
  '0.2:0.8;0.25:1.4;0.28:1.2;0.3:1.6,1;0.33:1.4;0.35:1.1,1.6;0.38:1.3;0.4:1.5,1;0.42:1.2;0.45:1.4,0.9;0.48:1.2,0.7;0.5:1,0.6;0.52:0.6;0.55:3.5,0.8,-1.6;0.57:-1.5,0.2;0.58:4,1.2;0.6:-1.4,-0.3,1;0.62:-1.8,1.2;0.64:-1.4,1.4;' +
  '0.66:-1.8,-1.2,-0.6,0,0.6;0.68:-1.9,-1.3,-0.7,-0.1,0.5,1.1;0.7:-2,-1.4,-0.8,-0.2,0.4,1,1.5;0.72:-2.1,-1.5,-0.9,-0.3,0.3,0.9,1.5;0.74:-2.1,-1.5,-0.9,-0.3,0.3,0.9,1.4;0.76:-2,-1.4,-0.8,-0.2,0.4,1;0.78:-1.9,-1.3,-0.7,-0.1,0.5,1.1;0.8:-1.8,-1.2,-0.6,0,0.6,1;0.82:-1.7,-1.1,-0.5,0.1,0.6;0.84:-1.6,-1,-0.4,0.2,0.6;0.86:-1.5,-0.9,-0.3,0.2;0.88:-1.4,-0.8,-0.2,0.2;0.9:-1.2,-0.6,0;0.92:-1,-0.4'
];

const W = 3459, H = 4217;
const colX = [317, 982, 1646, 2308, 2967];
const rowTop = [38, 726, 1418, 2109, 2800, 3489];
const pw = 445, ph = 458;
const ms = 15; // marker size

function parse(s) {
  return s.split(';').flatMap(c => {
    const [x, ys] = c.split(':');
    return ys.split(',').map(y => [+x, +y]);
  });
}

// the visible window can be shorter than the figure; squeeze it to fit
const viewH = Math.min(H, window.innerHeight || H);
const svg = d3.select('#chart').append('svg')
  .attr('width', W).attr('height', viewH)
  .attr('viewBox', `0 0 ${W} ${H}`)
  .attr('preserveAspectRatio', 'none')
  .style('background', '#fff');

names.forEach((name, i) => {
  const r = Math.floor(i / 5), c = i % 5;
  const g = svg.append('g')
    .attr('transform', `translate(${colX[c]},${rowTop[r]})`);

  const x = d3.scaleLinear().domain([0, 1]).range([0, pw]);
  const y = d3.scaleLinear().domain([-15, yMax[i]]).range([ph, 0]);

  // axes
  const xAxis = d3.axisBottom(x).tickValues(d3.range(0, 1.001, 0.1))
    .tickSize(14).tickSizeOuter(0).tickFormat('');
  const yAxis = d3.axisLeft(y).tickValues(d3.range(-15, yMax[i] + 0.01, 2.5))
    .tickSize(14).tickSizeOuter(0).tickFormat('');
  const gx = g.append('g').attr('transform', `translate(0,${ph})`).call(xAxis);
  const gy = g.append('g').call(yAxis);
  [gx, gy].forEach(a => {
    a.select('.domain').attr('stroke', '#000').attr('stroke-width', 7);
    a.selectAll('.tick line').attr('stroke', '#000').attr('stroke-width', 8);
  });
  gx.selectAll('.tick line').attr('y1', -7).attr('y2', 7);
  gy.selectAll('.tick line').attr('x1', 7).attr('x2', -7);

  // tick labels
  g.selectAll('.xl').data(d3.range(0, 1.001, 0.2)).join('text')
    .attr('x', d => x(d)).attr('y', ph + 88)
    .attr('text-anchor', 'middle').attr('font-size', 34)
    .text((d, k) => (i === 6 && k === 5) ? '1' : xTickLabels[k]);
  g.selectAll('.yl').data(d3.range(-15, yMax[i] + 0.01, 5)).join('text')
    .attr('x', -36).attr('y', d => y(d) + 12)
    .attr('text-anchor', 'end').attr('font-size', 34)
    .text(d => d);

  // title
  g.append('text').attr('x', 66).attr('y', r === 2 ? 62 : 72)
    .attr('font-size', 32).text(name);

  // points
  g.selectAll('rect.pt').data(parse(points[i])).join('rect')
    .attr('class', 'pt')
    .attr('x', d => x(d[0]) - ms / 2).attr('y', d => y(d[1]) - ms / 2)
    .attr('width', ms).attr('height', ms).attr('fill', '#000');

  // fitted curve
  g.append('path').datum(curves[i])
    .attr('fill', 'none').attr('stroke', '#000').attr('stroke-width', 5)
    .attr('d', d3.line().x(d => x(d[0])).y(d => y(d[1])).curve(d3.curveNatural));
});

// y axis title
const yt = svg.append('text')
  .attr('transform', `translate(95,${H / 2 - 80}) rotate(-90)`)
  .attr('text-anchor', 'middle')
  .style('font-family', '"Liberation Serif", "DejaVu Serif", serif')
  .attr('font-size', 78);
const seg = [
  ['(ρ', 0], ['NIR', -1], ['S', 1], [' - ρ', 0], ['NIR', -1], ['MODIS', 1],
  [') / ρ', 0], ['NIR', -1], ['MODIS', 1], [' *100%', 0]
];
let prev = 0;
seg.forEach(([t, s]) => {
  const off = s === -1 ? -28 : s === 1 ? 18 : 0;
  yt.append('tspan').attr('dy', off - prev)
    .attr('font-size', s ? 52 : 78).text(t);
  prev = off;
});

// x axis title
const xt = svg.append('text')
  .attr('x', 1890).attr('y', 4180).attr('text-anchor', 'middle')
  .style('font-family', '"Liberation Serif", "DejaVu Serif", serif')
  .attr('font-size', 72);
xt.append('tspan').text('NDVI');
xt.append('tspan').attr('dy', 12).attr('font-size', 50).text('S');
</script>
</body>
</html>
